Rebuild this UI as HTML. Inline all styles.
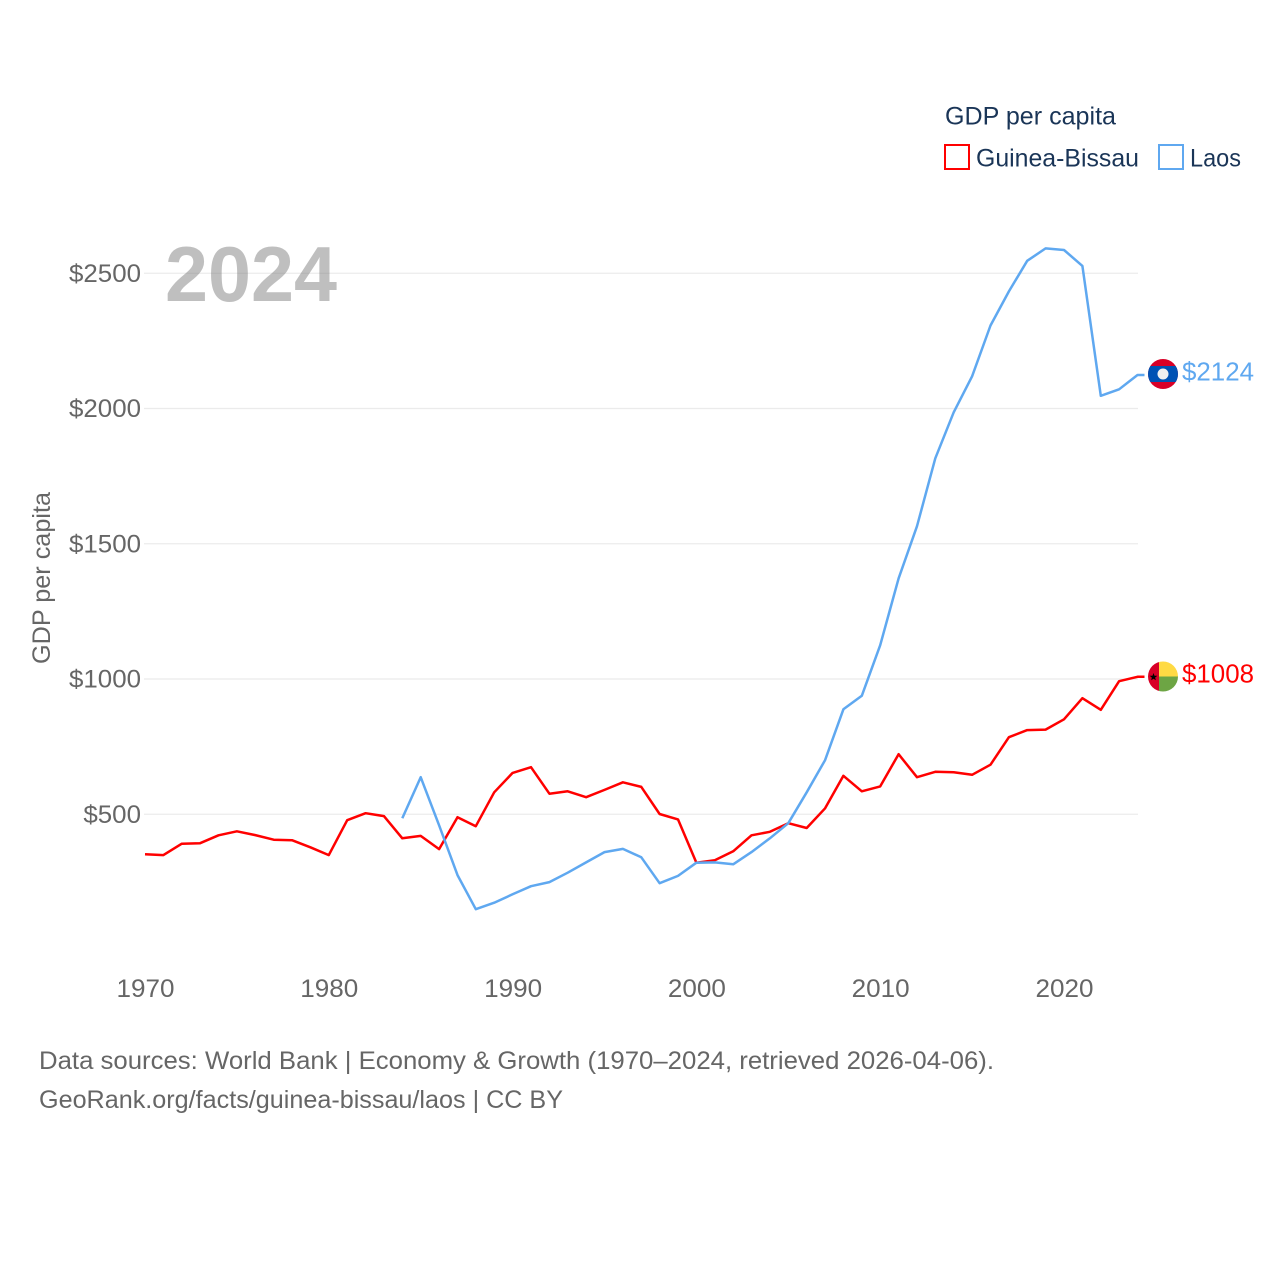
<!DOCTYPE html>
<html lang="en">
<head>
<meta charset="utf-8">
<title>GDP per capita: Guinea-Bissau and Laos</title>
<style>
html,body{margin:0;padding:0;background:#fff;}
svg{display:block;font-family:"Liberation Sans",sans-serif;}
</style>
</head>
<body>
<svg id="chart" xmlns="http://www.w3.org/2000/svg" width="1280" height="1280" viewBox="0 0 1280 1280">
  <defs>
    <clipPath id="laos-clip"><circle cx="1163" cy="374" r="15"/></clipPath>
    <clipPath id="gb-clip"><circle cx="1163" cy="676.5" r="15"/></clipPath>
  </defs>
  <g id="grid"></g>
  <g id="y-ticks"></g>
  <g id="x-ticks"></g>
  <text transform="translate(50,578) rotate(-90)" text-anchor="middle" font-size="25" fill="#666" textLength="172" lengthAdjust="spacingAndGlyphs">GDP per capita</text>
  <text x="165" y="301" font-size="78" font-weight="700" fill="#808080" fill-opacity="0.5" textLength="172" lengthAdjust="spacingAndGlyphs">2024</text>
  <g id="series"></g>

  <g clip-path="url(#laos-clip)">
    <rect x="1147" y="358" width="32" height="32" fill="#d80027"/>
    <rect x="1147" y="366" width="32" height="16" fill="#0052b4"/>
    <circle cx="1163" cy="374" r="5.5" fill="#f0f0f0"/>
  </g>
  <g clip-path="url(#gb-clip)">
    <rect x="1147" y="660" width="12" height="33" fill="#d80027"/>
    <rect x="1159" y="660" width="20" height="16.5" fill="#ffda44"/>
    <rect x="1159" y="676.5" width="20" height="16.5" fill="#6da544"/>
    <polygon points="1153.5,673 1154.5,675.7 1157.4,675.8 1155.1,677.6 1155.9,680.3 1153.5,678.7 1151.1,680.3 1151.9,677.6 1149.6,675.8 1152.5,675.7" fill="#000"/>
  </g>
  <text x="1182" y="380.5" font-size="26" fill="#5fa8f0" textLength="72" lengthAdjust="spacingAndGlyphs">$2124</text>
  <text x="1182" y="682.5" font-size="26" fill="#ff0000" textLength="72" lengthAdjust="spacingAndGlyphs">$1008</text>

  <g>
    <text x="945" y="124.5" font-size="25" fill="#1a3557" textLength="171" lengthAdjust="spacingAndGlyphs">GDP per capita</text>
    <g>
      <rect x="945" y="145" width="24" height="24" fill="none" stroke="#ff0000" stroke-width="2"/>
      <text x="976" y="166.5" font-size="25" fill="#1a3557" textLength="163" lengthAdjust="spacingAndGlyphs">Guinea-Bissau</text>
    </g>
    <g>
      <rect x="1159" y="145" width="24" height="24" fill="none" stroke="#5fa8f0" stroke-width="2"/>
      <text x="1190" y="166.5" font-size="25" fill="#1a3557" textLength="51" lengthAdjust="spacingAndGlyphs">Laos</text>
    </g>
  </g>

  <text x="39" y="1069" font-size="25" fill="#666" textLength="955" lengthAdjust="spacingAndGlyphs">Data sources: World Bank | Economy &amp; Growth (1970–2024, retrieved 2026-04-06).</text>
  <text x="39" y="1108" font-size="25" fill="#666" textLength="524" lengthAdjust="spacingAndGlyphs">GeoRank.org/facts/guinea-bissau/laos | CC BY</text>
</svg>
<script>
const startYear = 1970;
const xTickYears = [1970, 1980, 1990, 2000, 2010, 2020];
const yTickValues = [500, 1000, 1500, 2000, 2500];
const yTickLabels = ["$500", "$1000", "$1500", "$2000", "$2500"];
const guineaBissauValues = [352, 349, 391, 393, 422, 437, 423, 406, 404, 378, 349, 478, 504, 493, 411, 420, 371, 489, 456, 581, 653, 674, 576, 585, 563, 590, 618, 601, 501, 481, 321, 330, 363, 422, 435, 467, 449, 522, 642, 585, 603, 722, 637, 657, 655, 646, 683, 785, 811, 813, 851, 929, 886, 992, 1008];
const laosStartYear = 1984;
const laosValues = [485, 637, 459, 275, 149, 173, 204, 234, 249, 284, 322, 360, 372, 341, 245, 272, 321, 322, 315, 360, 411, 467, 581, 700, 888, 938, 1125, 1372, 1565, 1816, 1986, 2119, 2307, 2433, 2546, 2592, 2586, 2527, 2047, 2071, 2124];

const SVG_NS = "http://www.w3.org/2000/svg";
function xScale(year) { return 145 + (year - 1970) * 18.38; }
function yScale(value) { return 949.5 - value * 0.2705; }

const grid = document.getElementById("grid");
const yTicks = document.getElementById("y-ticks");
const xTicks = document.getElementById("x-ticks");
const series = document.getElementById("series");

yTickValues.forEach(function (value, i) {
  const line = document.createElementNS(SVG_NS, "line");
  
  
  line.setAttribute("x1", 144);
  line.setAttribute("x2", 1138);
  line.setAttribute("y1", yScale(value));
  line.setAttribute("y2", yScale(value));
  line.setAttribute("stroke", "#ebebeb");
  line.setAttribute("stroke-width", "1.2");
  grid.appendChild(line);

  const label = document.createElementNS(SVG_NS, "text");
  
  
  label.setAttribute("x", 141);
  label.setAttribute("y", yScale(value) + 8.5);
  label.setAttribute("text-anchor", "end");
  label.setAttribute("font-size", "25");
  label.setAttribute("fill", "#666");
  label.setAttribute("textLength", yTickLabels[i].length * 14.4);
  label.setAttribute("lengthAdjust", "spacingAndGlyphs");
  label.textContent = yTickLabels[i];
  yTicks.appendChild(label);
});

xTickYears.forEach(function (year) {
  const label = document.createElementNS(SVG_NS, "text");
  
  
  label.setAttribute("x", xScale(year) + 0.5);
  label.setAttribute("y", 997);
  label.setAttribute("text-anchor", "middle");
  label.setAttribute("font-size", "25");
  label.setAttribute("fill", "#666");
  label.setAttribute("textLength", 58);
  label.setAttribute("lengthAdjust", "spacingAndGlyphs");
  label.textContent = String(year);
  xTicks.appendChild(label);
});

function buildPoints(firstYear, values) {
  return values.map(function (value, i) {
    return xScale(firstYear + i).toFixed(1) + "," + yScale(value).toFixed(1);
  });
}

function lastPoint(firstYear, values) {
  const last = values.length - 1;
  return (xScale(firstYear + last) + 7).toFixed(1) + "," + yScale(values[last]).toFixed(1);
}

const redLine = document.createElementNS(SVG_NS, "polyline");


redLine.setAttribute("points", buildPoints(startYear, guineaBissauValues).concat(lastPoint(startYear, guineaBissauValues)).join(" "));
redLine.setAttribute("fill", "none");
redLine.setAttribute("stroke", "#ff0000");
redLine.setAttribute("stroke-width", "2.5");
redLine.setAttribute("stroke-linejoin", "round");
series.appendChild(redLine);

const blueLine = document.createElementNS(SVG_NS, "polyline");


blueLine.setAttribute("points", buildPoints(laosStartYear, laosValues).concat(lastPoint(laosStartYear, laosValues)).join(" "));
blueLine.setAttribute("fill", "none");
blueLine.setAttribute("stroke", "#5fa8f0");
blueLine.setAttribute("stroke-width", "2.5");
blueLine.setAttribute("stroke-linejoin", "round");
series.appendChild(blueLine);
</script>
</body>
</html>
